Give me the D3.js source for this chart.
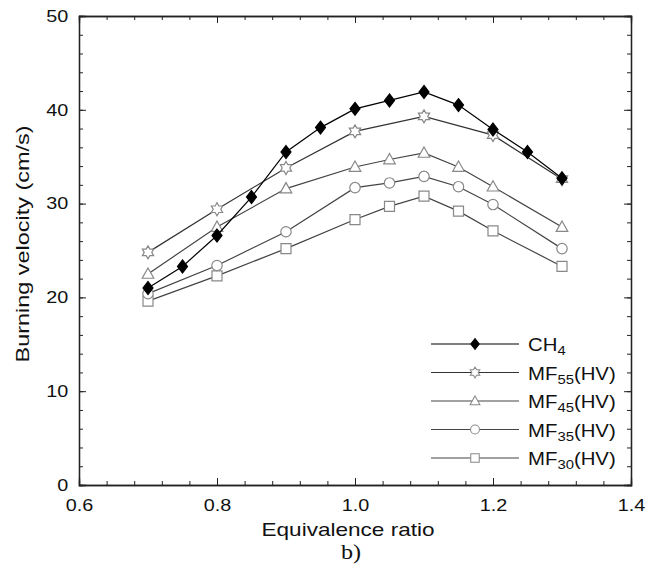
<!DOCTYPE html>
<html>
  <head>
    <script src="https://cdn.jsdelivr.net/npm/d3@7"></script>
    <style>
      body { margin: 0; background: #fff; }
      text { font-family: "Liberation Sans", Arial, sans-serif; fill: #111; }
    </style>
  </head>
  <body>
    <svg id="chart" width="646" height="572"></svg>
    <script>
    // equivalence ratios and burning velocities (cm/s)
    var phiCH4 = [0.7, 0.75, 0.8, 0.85, 0.9, 0.95, 1.0, 1.05, 1.1, 1.15, 1.2, 1.25, 1.3];
    var vCH4   = [21.0, 23.3, 26.6, 30.7, 35.5, 38.1, 40.1, 41.0, 41.9, 40.5, 37.9, 35.5, 32.7];

    var phiMF55 = [0.7, 0.8, 0.9, 1.0, 1.1, 1.2, 1.3];
    var vMF55   = [24.8, 29.4, 33.8, 37.7, 39.3, 37.3, 32.6];

    var phiMF = [0.7, 0.8, 0.9, 1.0, 1.05, 1.1, 1.15, 1.2, 1.3];
    var vMF45 = [22.5, 27.5, 31.6, 33.9, 34.7, 35.4, 33.9, 31.8, 27.5];
    var vMF35 = [20.4, 23.4, 27.0, 31.7, 32.2, 32.9, 31.8, 29.9, 25.2];
    var vMF30 = [19.6, 22.3, 25.2, 28.3, 29.7, 30.8, 29.2, 27.1, 23.3];

    var xTicks = [0.6, 0.8, 1.0, 1.2, 1.4];
    var yTicks = [0, 10, 20, 30, 40, 50];

    (function(){
    var svg = d3.select("#chart");
    var mLeft = 79, mRight = 631, mTop = 16, mBottom = 485;

    var x = d3.scaleLinear().domain([0.6, 1.4]).range([mLeft, mRight]);
    var y = d3.scaleLinear().domain([0, 50]).range([mBottom, mTop]);

    // marker shapes
    function hexagram(r){
      var pts = [];
      for (var i = 0; i < 12; i++){
        var a = Math.PI / 6 * i - Math.PI / 2;
        var rr = i % 2 ? r * 0.58 : r;
        pts.push([rr * Math.cos(a), rr * Math.sin(a)]);
      }
      return "M" + pts.map(function(p){ return p[0].toFixed(2) + "," + p[1].toFixed(2); }).join("L") + "Z";
    }
    var shapes = {
      diamond: "M0,-6.5L5,0L0,6.5L-5,0Z",
      star: hexagram(6.5),
      triangle: "M0,-6L5.8,4.3L-5.8,4.3Z",
      circle: d3.symbol().type(d3.symbolCircle).size(85)(),
      square: "M-5,-5L5,-5L5,5L-5,5Z"
    };

    var series = [
      {name: "CH", sub: "4", tail: "", xs: phiCH4, ys: vCH4, shape: "diamond", line: "#000", fill: "#000", stroke: "#000"},
      {name: "MF", sub: "55", tail: "(HV)", xs: phiMF55, ys: vMF55, shape: "star", line: "#333", fill: "#fff", stroke: "#888"},
      {name: "MF", sub: "45", tail: "(HV)", xs: phiMF, ys: vMF45, shape: "triangle", line: "#444", fill: "#fff", stroke: "#888"},
      {name: "MF", sub: "35", tail: "(HV)", xs: phiMF, ys: vMF35, shape: "circle", line: "#444", fill: "#fff", stroke: "#888"},
      {name: "MF", sub: "30", tail: "(HV)", xs: phiMF, ys: vMF30, shape: "square", line: "#444", fill: "#fff", stroke: "#888"}
    ];

    // axes with inward ticks on all four sides
    var minorX = d3.range(0, 21).map(function(i){ return 0.6 + i * 0.04; });
    var minorY = d3.range(0, 26).map(function(i){ return i * 2; });

    var axisG = svg.append("g");

    axisG.append("g").attr("transform", "translate(0," + mBottom + ")")
      .call(d3.axisBottom(x).tickValues(minorX).tickSize(-4).tickFormat(""));
    axisG.append("g").attr("class", "lab").attr("transform", "translate(0," + mBottom + ")")
      .call(d3.axisBottom(x).tickValues(xTicks).tickSize(-7).tickPadding(14).tickFormat(d3.format(".1f")));
    axisG.append("g").attr("transform", "translate(0," + mTop + ")")
      .call(d3.axisTop(x).tickValues(minorX).tickSize(-4).tickFormat(""));
    axisG.append("g").attr("transform", "translate(0," + mTop + ")")
      .call(d3.axisTop(x).tickValues(xTicks).tickSize(-7).tickFormat(""));

    axisG.append("g").attr("transform", "translate(" + mLeft + ",0)")
      .call(d3.axisLeft(y).tickValues(minorY).tickSize(-4).tickFormat(""));
    axisG.append("g").attr("class", "lab").attr("transform", "translate(" + mLeft + ",0)")
      .call(d3.axisLeft(y).tickValues(yTicks).tickSize(-7).tickPadding(9).tickFormat(d3.format("d")));
    axisG.append("g").attr("transform", "translate(" + mRight + ",0)")
      .call(d3.axisRight(y).tickValues(minorY).tickSize(-4).tickFormat(""));
    axisG.append("g").attr("transform", "translate(" + mRight + ",0)")
      .call(d3.axisRight(y).tickValues(yTicks).tickSize(-7).tickFormat(""));

    axisG.selectAll(".domain").attr("stroke", "#222").attr("stroke-width", 1.3);
    axisG.selectAll(".tick line").attr("stroke", "#222");
    axisG.selectAll(".lab .tick text")
      .style("font-family", "Liberation Sans, Arial, sans-serif")
      .style("font-size", "16.5px")
      .attr("fill", "#111")
      .attr("transform", "scale(1.2,1)");

    // axis titles
    svg.append("text")
      .attr("x", 348).attr("y", 536)
      .attr("text-anchor", "middle")
      .attr("textLength", 173).attr("lengthAdjust", "spacingAndGlyphs")
      .style("font-size", "18.5px")
      .text("Equivalence ratio");
    svg.append("text")
      .attr("transform", "translate(29,244) rotate(-90)")
      .attr("text-anchor", "middle")
      .attr("textLength", 237).attr("lengthAdjust", "spacingAndGlyphs")
      .style("font-size", "19px")
      .text("Burning velocity (cm/s)");
    svg.append("text")
      .attr("transform", "translate(351,559) scale(1.15,1)")
      .attr("text-anchor", "middle")
      .style("font-family", "Liberation Serif, Times New Roman, serif")
      .style("font-size", "21px")
      .text("b)");

    // lines and markers
    var line = d3.line().x(function(d){ return x(d[0]); }).y(function(d){ return y(d[1]); });
    var plot = svg.append("g");

    series.slice().reverse().forEach(function(s){
      var pts = s.xs.map(function(v, i){ return [v, s.ys[i]]; });
      plot.append("path")
        .datum(pts)
        .attr("d", line)
        .attr("fill", "none")
        .attr("stroke", s.line)
        .attr("stroke-width", 1.2);
      plot.selectAll(null)
        .data(pts)
        .enter().append("path")
        .attr("d", shapes[s.shape])
        .attr("transform", function(d){ return "translate(" + x(d[0]) + "," + y(d[1]) + ")"; })
        .attr("fill", s.fill)
        .attr("stroke", s.stroke)
        .attr("stroke-width", 1.2);
    });

    // legend
    var legend = svg.append("g");
    series.forEach(function(s, i){
      var ly = 344 + i * 28.5;
      legend.append("line")
        .attr("x1", 431).attr("x2", 519).attr("y1", ly).attr("y2", ly)
        .attr("stroke", s.line).attr("stroke-width", 1.2);
      legend.append("path")
        .attr("d", shapes[s.shape])
        .attr("transform", "translate(475," + ly + ") scale(0.85)")
        .attr("fill", s.fill)
        .attr("stroke", s.stroke)
        .attr("stroke-width", 1.2);
      var t = legend.append("text")
        .attr("transform", "translate(528," + (ly + 7) + ") scale(1.1,1)")
        .style("font-size", "18.5px");
      t.append("tspan").text(s.name);
      t.append("tspan").attr("dy", 4).style("font-size", "13.5px").text(s.sub);
      t.append("tspan").attr("dy", -4).text(s.tail);
    });
    })();
    </script>
  </body>
</html>
